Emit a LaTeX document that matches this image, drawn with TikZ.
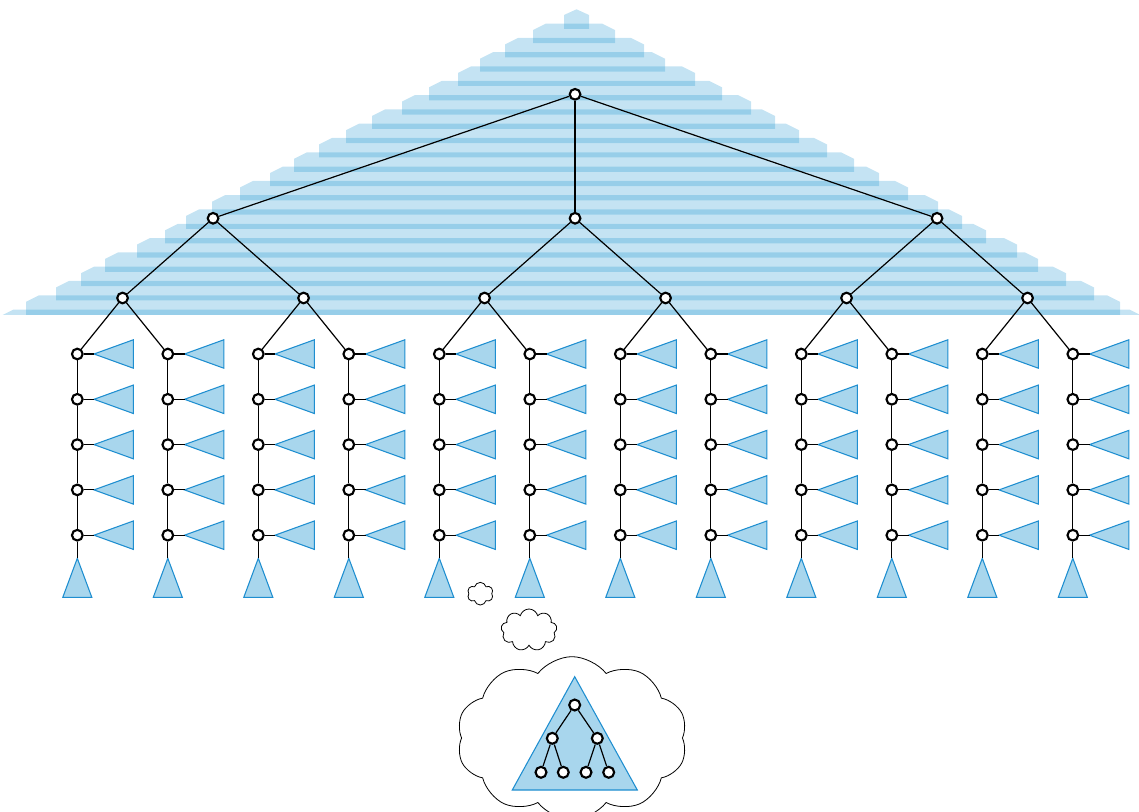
\documentclass[tikz,border=0pt]{standalone}
\usetikzlibrary{shapes.symbols}
\definecolor{stripe}{RGB}{0,136,202}
\definecolor{trifill}{RGB}{168,214,237}
\definecolor{tristroke}{RGB}{30,142,208}
\begin{document}
\begin{tikzpicture}[x=0.75pt,y=-0.75pt,
  vtx/.style={circle,draw=black,line width=1.6pt,fill=white,inner sep=0pt,minimum size=8pt},
  edge/.style={draw=black,line width=0.9pt},
  tri/.style={fill=trifill,draw=tristroke,line width=0.8pt,line join=miter},
  layer/.style={fill=stripe,fill opacity=0.23},
  thought/.style={cloud,draw=black,line width=0.6pt,cloud ignores aspect,inner sep=0pt}]
\useasboundingbox (0,0) rectangle (1139,812);
% striped pyramid
\begin{scope}
\clip (0,0) rectangle (1139,314.3);
\path[layer] (564,28.8) -- (564,15) -- (576.5,9.3) -- (589,15) -- (589,28.8) -- cycle;
\foreach \k/\lx/\rx in {1/533/615, 2/505/644, 3/480/665, 4/458/695, 5/429/722,
  6/402/751, 7/372/775, 8/346/799, 9/319/827, 10/294/854, 11/270/879,
  12/240/908, 13/212/938, 14/186/962, 15/165/986, 16/137/1017, 17/105/1038,
  18/81/1066, 19/56/1094, 20/26/1120, 21/0.4/1142.6} {
  \pgfmathsetmacro\ty{9.3+14.3*\k}
  \pgfmathsetmacro\by{\ty+19.5}
  \pgfmathsetmacro\cy{\ty+6.5}
  \path[layer] (\lx,\by) -- (\lx,\cy) -- (\lx+13,\ty) -- (\rx-13,\ty) -- (\rx,\cy) -- (\rx,\by) -- cycle;
}
\end{scope}
% upper tree
\node[vtx] (r) at (575.05,94.3) {};
\foreach \m in {1,2,3} {
  \pgfmathsetmacro\ax{213.05+362*(\m-1)}
  \node[vtx] (a-\m) at (\ax,218.3) {};
  \draw[edge] (r) -- (a-\m);
}
\foreach \j in {1,...,6} {
  \pgfmathsetmacro\bx{122.55+181*(\j-1)}
  \node[vtx] (b-\j) at (\bx,298) {};
  \pgfmathtruncatemacro\pm{(\j+1)/2}
  \draw[edge] (a-\pm) -- (b-\j);
}
% spines
\foreach \i in {1,...,12} {
  \pgfmathsetmacro\sx{77.3+90.5*(\i-1)}
  \foreach \j in {1,...,5} {
    \pgfmathsetmacro\sy{354+45.3*(\j-1)}
    \node[vtx] (s-\i-\j) at (\sx,\sy) {};
    \coordinate (t-\i-\j) at (\sx+16.7,\sy);
    \path[tri] (t-\i-\j) -- ++(39.3,-14.2) -- ++(0,28.4) -- cycle;
    \draw[edge] (s-\i-\j) -- (t-\i-\j);
  }
  \foreach \j [evaluate=\j as \jn using int(\j+1)] in {1,...,4}
    \draw[edge] (s-\i-\j) -- (s-\i-\jn);
  \coordinate (u-\i) at (\sx,558.3);
  \path[tri] (u-\i) -- ++(14.5,39) -- ++(-29,0) -- cycle;
  \draw[edge] (s-\i-5) -- (u-\i);
}
\foreach \j in {1,...,6} {
  \pgfmathtruncatemacro\ia{2*\j-1}
  \pgfmathtruncatemacro\ib{2*\j}
  \draw[edge] (b-\j) -- (s-\ia-1);
  \draw[edge] (b-\j) -- (s-\ib-1);
}
% thought clouds
\node[thought,cloud puffs=6,minimum width=19.5pt,minimum height=17pt] (c-1) at (480.3,593.7) {};
\node[thought,cloud puffs=9,minimum width=42pt,minimum height=31.5pt] (c-2) at (529,630) {};
\node[thought,cloud puffs=10,cloud puff arc=105,minimum width=173pt,minimum height=122pt] (c-3) at (572,738) {};
\coordinate (p-1) at (574.7,676.7);
\coordinate (p-2) at (637.3,790);
\coordinate (p-3) at (512.3,790);
\path[tri] (p-1) -- (p-2) -- (p-3) -- cycle;
\node[vtx,minimum size=8.2pt] (i-1) at (574.7,705) {};
\node[vtx,minimum size=8.2pt] (i-2) at (552.3,738.3) {};
\node[vtx,minimum size=8.2pt] (i-3) at (597.3,738.3) {};
\node[vtx,minimum size=8.2pt] (i-4) at (541,772.3) {};
\node[vtx,minimum size=8.2pt] (i-5) at (563.3,772.3) {};
\node[vtx,minimum size=8.2pt] (i-6) at (586,772.3) {};
\node[vtx,minimum size=8.2pt] (i-7) at (608.7,772.3) {};
\foreach \p/\c in {1/2,1/3,2/4,2/5,3/6,3/7}
  \draw[edge] (i-\p) -- (i-\c);
\end{tikzpicture}
\end{document}
